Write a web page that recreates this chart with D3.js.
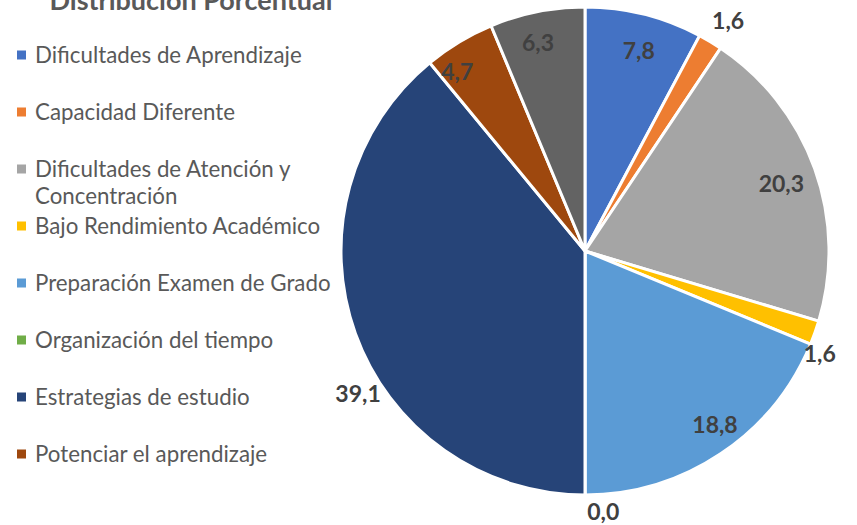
<!DOCTYPE html>
<html><head><meta charset="utf-8">
<script src="https://cdn.jsdelivr.net/npm/d3@7"></script>
<style>body{margin:0;background:#fff}svg{display:block}</style>
</head><body>
<svg id="c" width="857" height="525"></svg>
<script>
const categories = ["Dificultades de Aprendizaje","Capacidad Diferente","Dificultades de Atención y Concentración","Bajo Rendimiento Académico","Preparación Examen de Grado","Organización del tiempo","Estrategias de estudio","Potenciar el aprendizaje","Otros"];
const values = [7.8,1.6,20.3,1.6,18.8,0.0,39.1,4.7,6.3];
const colors = ["#4472C4","#ED7D31","#A5A5A5","#FFC000","#5B9BD5","#70AD47","#264478","#9E480E","#636363"];
const title = "Distribución Porcentual";
// label placement: radius factor and angle nudge (deg)
const labelR = [0.85,1.11,0.85,1.05,0.89,1.07,1.10,0.90,0.875];
const labelDA = [1,1,1,4,-3,-4,-12.5,-4.5,-1.4];
const legendShown = 8;

const svg = d3.select("#c");
const cx=585, cy=251, R=244;
const pie = d3.pie().sort(null).value(d=>d)(values);
const arc = d3.arc().innerRadius(0).outerRadius(R);
const g = svg.append("g").attr("transform",`translate(${cx},${cy})`);
g.selectAll("path").data(pie).join("path")
  .attr("d",arc).attr("fill",(d,i)=>colors[i])
  .attr("stroke","#fff").attr("stroke-width",3).attr("stroke-linejoin","round");
const fmt = v => d3.format(".1f")(v).replace(".",",");
g.selectAll("text.lbl").data(pie).join("text").attr("class","lbl")
  .attr("transform",(d,i)=>{
    const a=(d.startAngle+d.endAngle)/2 + labelDA[i]*Math.PI/180;
    const r=R*labelR[i];
    return `translate(${r*Math.sin(a)},${-r*Math.cos(a)})`;
  })
  .attr("text-anchor","middle").attr("dy","0.35em")
  .attr("font-family","Lato, 'Open Sans', sans-serif").attr("font-weight","bold")
  .attr("font-size",23).attr("fill","#404040")
  .text(d=>fmt(d.data));

svg.append("text").attr("x",191).attr("y",10).attr("text-anchor","middle")
  .attr("font-family","Lato, 'Open Sans', sans-serif").attr("font-weight","bold")
  .attr("font-size",27).attr("fill","#595959").text(title);

const leg = svg.append("g");
const rowY = d3.scaleLinear().domain([0,1]).range([55,112]);
const wraps = {2:["Dificultades de Atención y","Concentración"]};
categories.slice(0,legendShown).forEach((c,i)=>{
  const y=rowY(i);
  leg.append("rect").attr("x",17).attr("y",y-4.5).attr("width",9).attr("height",9).attr("fill",colors[i]);
  const t=leg.append("text").attr("x",35).attr("y",y)
    .attr("font-family","Lato, 'Open Sans', sans-serif").attr("font-size",22.3).attr("fill","#595959");
  const lines = wraps[i]||[c];
  lines.forEach((l,k)=>t.append("tspan").attr("x",35).attr("dy",k===0?"0.35em":27).text(l));
});
</script>
</body></html>
